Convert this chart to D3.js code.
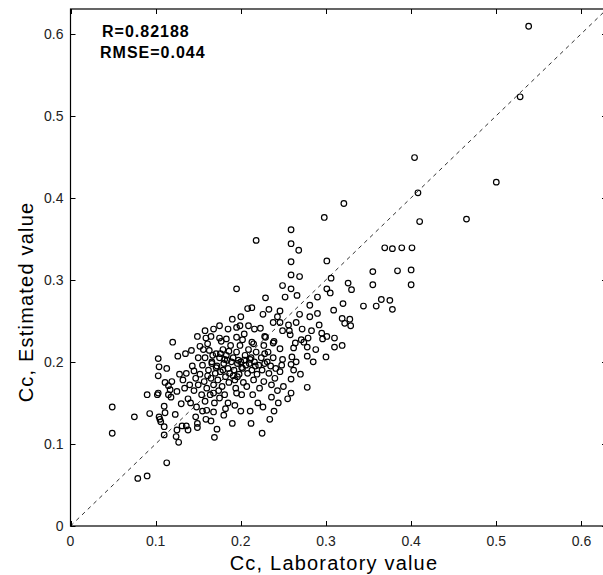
<!DOCTYPE html>
<html>
<head>
<meta charset="utf-8">
<script src="https://cdn.jsdelivr.net/npm/d3@7"></script>
<style>
    body { margin: 0; background: #fff; }
    svg { display: block; font-family: 'Liberation Sans', Arial, sans-serif; }
    .point { fill: none; stroke: #000; stroke-width: 1.2; }
    .refLine { stroke: #333; stroke-width: 1; stroke-dasharray: 4, 4; fill: none; }
    .frame { fill: none; stroke: #000; stroke-width: 1.2; }
    .tickLabel { font-size: 14px; fill: #222; }
    .axisTitle { font-size: 20px; fill: #000; letter-spacing: 1.2px; }
    .stat { font-size: 16px; font-weight: bold; fill: #000; letter-spacing: 1px; }
</style>
</head>
<body>
<div id="chart"></div>
<script>
'use strict';

// Data
const labValue = [
    0.538, 0.528, 0.500, 0.465, 0.404, 0.408, 0.410, 0.321, 0.298, 0.369,
    0.378, 0.389, 0.401, 0.301, 0.355, 0.384, 0.400, 0.355, 0.400, 0.306,
    0.301, 0.305, 0.326, 0.330, 0.365, 0.375, 0.378, 0.359, 0.344, 0.320,
    0.309, 0.259, 0.218, 0.259, 0.268, 0.259, 0.259, 0.269, 0.249, 0.259,
    0.266, 0.290, 0.229, 0.252, 0.208, 0.213, 0.233, 0.246, 0.281, 0.226,
    0.269, 0.290, 0.281, 0.319, 0.328, 0.322, 0.329, 0.246, 0.256, 0.265,
    0.249, 0.257, 0.258, 0.228, 0.295, 0.296, 0.301, 0.310, 0.310, 0.319,
    0.279, 0.271, 0.264, 0.274, 0.278, 0.278, 0.300, 0.262, 0.246, 0.238,
    0.227, 0.215, 0.228, 0.260, 0.249, 0.248, 0.259, 0.265, 0.246, 0.259,
    0.278, 0.259, 0.236, 0.195, 0.175, 0.195, 0.199, 0.209, 0.216, 0.223,
    0.149, 0.120, 0.152, 0.159, 0.165, 0.175, 0.183, 0.195, 0.204, 0.202,
    0.213, 0.229, 0.239, 0.135, 0.142, 0.103, 0.126, 0.104, 0.113, 0.103,
    0.111, 0.119, 0.090, 0.103, 0.049, 0.049, 0.075, 0.093, 0.102, 0.104,
    0.105, 0.106, 0.110, 0.111, 0.110, 0.110, 0.123, 0.124, 0.127, 0.113,
    0.079, 0.090, 0.125, 0.138, 0.131, 0.136, 0.149, 0.149, 0.169, 0.159,
    0.147, 0.130, 0.160, 0.168, 0.118, 0.115, 0.125, 0.148, 0.175, 0.182,
    0.193, 0.195, 0.168, 0.115, 0.117, 0.225, 0.132, 0.136, 0.140, 0.143,
    0.145, 0.138, 0.147, 0.150, 0.134, 0.141, 0.128, 0.145, 0.150, 0.152,
    0.155, 0.157, 0.158, 0.160, 0.162, 0.163, 0.165, 0.166, 0.168, 0.170,
    0.154, 0.158, 0.161, 0.167, 0.169, 0.156, 0.164, 0.172, 0.173, 0.175,
    0.176, 0.178, 0.179, 0.180, 0.182, 0.183, 0.185, 0.186, 0.188, 0.189,
    0.174, 0.177, 0.181, 0.184, 0.187, 0.171, 0.179, 0.191, 0.192, 0.193,
    0.195, 0.196, 0.198, 0.199, 0.200, 0.202, 0.203, 0.205, 0.206, 0.208,
    0.209, 0.194, 0.201, 0.207, 0.197, 0.204, 0.210, 0.212, 0.213, 0.215,
    0.216, 0.218, 0.219, 0.221, 0.222, 0.224, 0.225, 0.227, 0.228, 0.214,
    0.220, 0.226, 0.211, 0.217, 0.231, 0.233, 0.235, 0.236, 0.238, 0.240,
    0.241, 0.243, 0.232, 0.244, 0.239, 0.234, 0.180, 0.190, 0.200, 0.212,
    0.185, 0.165, 0.155, 0.172, 0.250, 0.255, 0.262, 0.270, 0.285, 0.288,
    0.272, 0.283, 0.292, 0.238, 0.243, 0.200, 0.190, 0.185, 0.168, 0.158,
    0.161, 0.171, 0.181, 0.191, 0.201, 0.211, 0.166, 0.176, 0.186, 0.196
];
const estValue = [
    0.609, 0.523, 0.419, 0.374, 0.449, 0.406, 0.371, 0.393, 0.376, 0.339,
    0.338, 0.339, 0.339, 0.323, 0.310, 0.311, 0.312, 0.294, 0.294, 0.302,
    0.289, 0.284, 0.296, 0.288, 0.276, 0.275, 0.264, 0.268, 0.268, 0.271,
    0.263, 0.361, 0.348, 0.344, 0.336, 0.322, 0.306, 0.304, 0.293, 0.289,
    0.281, 0.279, 0.278, 0.279, 0.265, 0.266, 0.264, 0.262, 0.269, 0.258,
    0.258, 0.259, 0.255, 0.253, 0.252, 0.247, 0.244, 0.248, 0.245, 0.248,
    0.238, 0.238, 0.233, 0.231, 0.235, 0.228, 0.231, 0.229, 0.218, 0.220,
    0.229, 0.227, 0.223, 0.224, 0.218, 0.207, 0.206, 0.217, 0.216, 0.223,
    0.220, 0.222, 0.210, 0.206, 0.203, 0.196, 0.197, 0.200, 0.188, 0.179,
    0.169, 0.162, 0.157, 0.289, 0.244, 0.242, 0.244, 0.244, 0.240, 0.241,
    0.231, 0.224, 0.219, 0.229, 0.231, 0.229, 0.228, 0.230, 0.234, 0.227,
    0.224, 0.230, 0.225, 0.210, 0.214, 0.204, 0.207, 0.194, 0.192, 0.183,
    0.175, 0.176, 0.160, 0.162, 0.145, 0.113, 0.133, 0.137, 0.160, 0.133,
    0.130, 0.127, 0.146, 0.138, 0.121, 0.111, 0.136, 0.109, 0.102, 0.077,
    0.058, 0.061, 0.117, 0.117, 0.122, 0.122, 0.125, 0.120, 0.108, 0.130,
    0.133, 0.149, 0.141, 0.139, 0.157, 0.160, 0.164, 0.145, 0.156, 0.143,
    0.147, 0.162, 0.162, 0.171, 0.166, 0.113, 0.178, 0.186, 0.172, 0.195,
    0.165, 0.155, 0.180, 0.205, 0.168, 0.150, 0.185, 0.189, 0.172, 0.185,
    0.196, 0.176, 0.205, 0.168, 0.190, 0.214, 0.180, 0.198, 0.172, 0.186,
    0.160, 0.152, 0.222, 0.208, 0.150, 0.215, 0.160, 0.195, 0.178, 0.205,
    0.188, 0.170, 0.215, 0.198, 0.182, 0.208, 0.192, 0.175, 0.220, 0.200,
    0.165, 0.225, 0.160, 0.202, 0.186, 0.210, 0.190, 0.205, 0.190, 0.178,
    0.212, 0.198, 0.185, 0.220, 0.200, 0.192, 0.175, 0.208, 0.196, 0.186,
    0.215, 0.168, 0.160, 0.170, 0.202, 0.202, 0.198, 0.205, 0.190, 0.178,
    0.200, 0.212, 0.185, 0.196, 0.168, 0.205, 0.190, 0.176, 0.198, 0.160,
    0.150, 0.145, 0.140, 0.195, 0.200, 0.186, 0.195, 0.172, 0.205, 0.180,
    0.192, 0.165, 0.212, 0.150, 0.140, 0.130, 0.135, 0.125, 0.140, 0.125,
    0.150, 0.128, 0.140, 0.118, 0.170, 0.155, 0.190, 0.185, 0.200, 0.215,
    0.240, 0.238, 0.245, 0.248, 0.255, 0.255, 0.252, 0.240, 0.240, 0.238,
    0.183, 0.193, 0.203, 0.183, 0.193, 0.203, 0.200, 0.210, 0.213, 0.182
];

// Axis config
const axisDomain = [0, 0.63];
const tickValues = [0, 0.1, 0.2, 0.3, 0.4, 0.5, 0.6];
const tickLabels = ['0', '0.1', '0.2', '0.3', '0.4', '0.5', '0.6'];

// Text
const xTitle = 'Cc, Laboratory value';
const yTitle = 'Cc, Estimated value';
const statLines = ['R=0.82188', 'RMSE=0.044'];

/* `````````````````````````````````\
    Class: ScatterFit               |
 ``````````````````````````````````*/
class ScatterFit {

    constructor(_parent) {
        this.parent = _parent;
        this.initVis();
    }

    initVis() {
        const vis = this;

        // Config svg
        vis.w = 603;
        vis.h = 575;

        vis.svg = d3.select(`#${vis.parent}`)
            .append('svg')
            .attr('width', vis.w)
            .attr('height', vis.h);

        // Plot box (right edge sits just past the picture)
        vis.box = {left: 70.5, right: 607, top: 9, bottom: 526};

        // Scales
        vis.x = d3.scaleLinear().domain(axisDomain).range([vis.box.left, vis.box.right]);
        vis.y = d3.scaleLinear().domain(axisDomain).range([vis.box.bottom, vis.box.top]);

        vis.wrangleData();
    }

    wrangleData() {
        const vis = this;
        vis.displayData = labValue.map((d, i) => ({lab: d, est: estValue[i]}));
        vis.updateVis();
    }

    updateVis() {
        const vis = this;
        const b = vis.box;
        const tickLen = 5;

        // Reference line y = x
        vis.svg.append('line')
            .attr('class', 'refLine')
            .attr('x1', vis.x(axisDomain[0]))
            .attr('y1', vis.y(axisDomain[0]))
            .attr('x2', vis.x(axisDomain[1]))
            .attr('y2', vis.y(axisDomain[1]));

        // Points
        vis.svg.append('g')
            .selectAll('.point')
            .data(vis.displayData)
            .join('circle')
            .attr('class', 'point')
            .attr('cx', d => vis.x(d.lab))
            .attr('cy', d => vis.y(d.est))
            .attr('r', 2.8);

        // Frame
        vis.svg.append('rect')
            .attr('class', 'frame')
            .attr('x', b.left)
            .attr('y', b.top)
            .attr('width', b.right - b.left)
            .attr('height', b.bottom - b.top);

        // Ticks (inward, all four sides)
        const ticksG = vis.svg.append('g')
            .attr('stroke', '#000')
            .attr('stroke-width', 1);

        tickValues.forEach(t => {
            const px = Math.round(vis.x(t)) + 0.5;
            const py = Math.round(vis.y(t)) + 0.5;
            ticksG.append('line').attr('x1', px).attr('x2', px).attr('y1', b.bottom).attr('y2', b.bottom - tickLen);
            ticksG.append('line').attr('x1', px).attr('x2', px).attr('y1', b.top).attr('y2', b.top + tickLen);
            ticksG.append('line').attr('y1', py).attr('y2', py).attr('x1', b.left).attr('x2', b.left + tickLen);
            ticksG.append('line').attr('y1', py).attr('y2', py).attr('x1', b.right).attr('x2', b.right - tickLen);
        });

        // Tick labels
        vis.svg.append('g')
            .selectAll('.xLab')
            .data(tickValues)
            .join('text')
            .attr('class', 'tickLabel')
            .attr('x', d => vis.x(d))
            .attr('y', b.bottom + 20)
            .attr('text-anchor', 'middle')
            .text((d, i) => tickLabels[i]);

        vis.svg.append('g')
            .selectAll('.yLab')
            .data(tickValues)
            .join('text')
            .attr('class', 'tickLabel')
            .attr('x', b.left - 7)
            .attr('y', d => vis.y(d) + 5)
            .attr('text-anchor', 'end')
            .text((d, i) => tickLabels[i]);

        // Axis titles
        vis.svg.append('text')
            .attr('class', 'axisTitle')
            .attr('x', 334)
            .attr('y', 570)
            .attr('text-anchor', 'middle')
            .text(xTitle);

        vis.svg.append('text')
            .attr('class', 'axisTitle')
            .attr('transform', 'translate(33, 302) rotate(-90)')
            .attr('text-anchor', 'middle')
            .text(yTitle);

        // Stats
        vis.svg.selectAll('.stat')
            .data(statLines)
            .join('text')
            .attr('class', 'stat')
            .attr('x', (d, i) => i === 0 ? 102 : 100)
            .attr('y', (d, i) => 37 + i * 21)
            .text(d => d);
    }
}

new ScatterFit('chart');
</script>
</body>
</html>
